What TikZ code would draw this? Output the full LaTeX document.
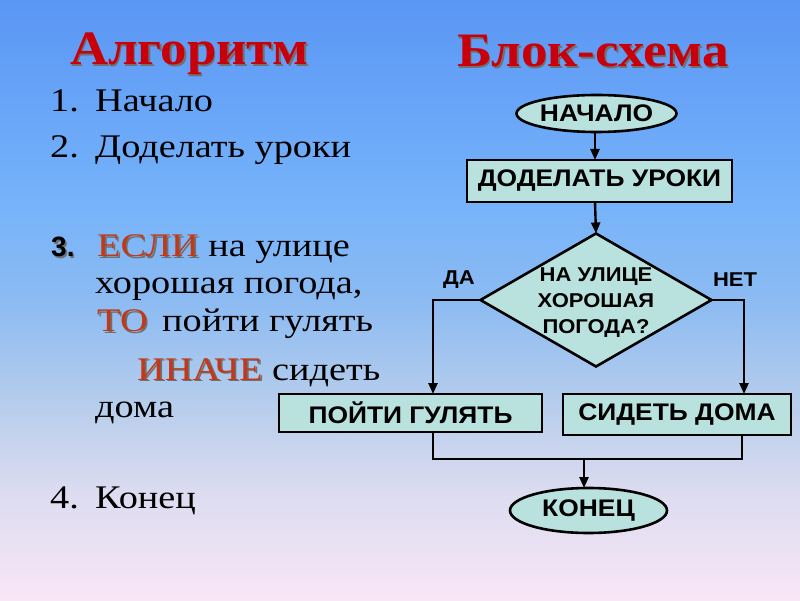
\documentclass[tikz,border=0pt]{standalone}
\usepackage{fontspec}
\setmainfont{Liberation Serif}[FakeStretch=1.16]
\setsansfont{Liberation Sans}[FakeStretch=1.1]
\newfontfamily\titlefont{Liberation Serif}[FakeStretch=1.1]
\newfontfamily\numfont{Liberation Sans}
\usetikzlibrary{shapes.geometric,arrows.meta}
\definecolor{bgA}{HTML}{5A96F4}
\definecolor{bgB}{HTML}{76B3FA}
\definecolor{bgC}{HTML}{8CBBF2}
\definecolor{bgD}{HTML}{B6CDEC}
\definecolor{bgE}{HTML}{DCDCF0}
\definecolor{bgF}{HTML}{F9E6F7}
\definecolor{boxfill}{HTML}{B9E2DF}
\definecolor{titlered}{HTML}{C8000C}
\definecolor{keyred}{HTML}{C03A1A}
\definecolor{shadowgray}{HTML}{404040}
\pgfdeclareverticalshading{slidebg}{100bp}{color(0bp)=(bgF); color(25bp)=(bgF); color(34bp)=(bgE); color(41.5bp)=(bgD); color(50bp)=(bgC); color(58bp)=(bgB); color(75bp)=(bgA); color(100bp)=(bgA)}
\newcommand\shtxt[2]{\rlap{\hspace{1.6pt}\raisebox{-1.6pt}{\textcolor{shadowgray!75}{#2}}}\textcolor{#1}{#2}}
\tikzset{
  flow/.style={draw=black, line width=2.6pt, fill=boxfill, inner sep=0pt, outer sep=0pt,
    font=\sffamily\bfseries\fontsize{24}{26}\selectfont},
  term/.style={flow, ellipse},
  proc/.style={flow, rectangle},
  dec/.style={flow, diamond},
  conn/.style={line width=2.4pt, draw=black},
  arr/.style={conn, -{Triangle[length=11pt,width=9pt]}},
  body/.style={inner sep=0pt, anchor=base west, font=\fontsize{33}{37}\selectfont},
  ttl/.style={inner sep=0pt, anchor=base west, font=\titlefont\bfseries\fontsize{48}{52}\selectfont},
  lbl/.style={inner sep=0pt, font=\sffamily\bfseries\fontsize{20}{22}\selectfont}
}
\begin{document}
\begin{tikzpicture}[x=1pt,y=-1pt]
\useasboundingbox (0,0) rectangle (800,601);
\shade[shading=slidebg] (0,0) rectangle (800,601);

% titles
\node[ttl] (t1) at (70,65) {\shtxt{titlered}{Алгоритм}};
\node[ttl] (t2) at (457,67) {\shtxt{titlered}{Блок-схема}};

% algorithm text
\node[body] (n1) at (50,112) {1.};
\node[body] (s1) at (95,112) {Начало};
\node[body] (n2) at (50,158) {2.};
\node[body] (s2) at (95,158) {Доделать уроки};
\node[body, font=\numfont\bfseries\fontsize{28}{32}\selectfont] (n3) at (51,257) {\shtxt{black}{3.}};
\node[body] (s3a) at (97,257) {\shtxt{keyred}{ЕСЛИ} на улице};
\node[body] (s3b) at (95,294) {хорошая погода,};
\node[body] (s3c) at (97,332) {\shtxt{keyred}{ТО}};
\node[body] (s3d) at (162,332) {пойти гулять};
\node[body] (s3e) at (137,380) {\shtxt{keyred}{ИНАЧЕ} сидеть};
\node[body] (s3f) at (95,417) {дома};
\node[body] (n4) at (50,508) {4.};
\node[body] (s4) at (95,508) {Конец};

% flowchart
\node[term, minimum width=153, minimum height=37] (start) at (596.5,113.5) {НАЧАЛО};
\node[proc, minimum width=265, minimum height=42] (do) at (599.5,181) {ДОДЕЛАТЬ УРОКИ};
\node[dec, minimum width=231, minimum height=133] (cond) at (596,300)
  {\smash{\makebox[0pt]{\raisebox{-7pt}{\fontsize{20}{26}\selectfont\begin{tabular}{@{}c@{}}НА УЛИЦЕ\\ХОРОШАЯ\\ПОГОДА?\end{tabular}}}}};
\node[proc, minimum width=263, minimum height=38] (walk) at (410.5,413) {ПОЙТИ ГУЛЯТЬ};
\node[proc, minimum width=228, minimum height=41] (home) at (677,414.5) {СИДЕТЬ ДОМА};
\node[term, minimum width=157, minimum height=45] (end) at (588.5,510.5) {КОНЕЦ};

\node[lbl] (yes) at (459,280) {ДА};
\node[lbl] (no) at (735,280) {НЕТ};

\coordinate (yesTurn) at (433,300);
\coordinate (noTurn) at (744,300);
\coordinate (mergeL) at (433,459);
\coordinate (mergeR) at (742,459);
\coordinate (mergeM) at (584,459);

\draw[arr] (start.south -| 595,0) -- (do.north -| 595,0);
\draw[arr] (do.south -| 595,0) -- (cond.north);
\draw[arr] (cond.west) -- (yesTurn) -- (yesTurn |- walk.north);
\draw[arr] (cond.east) -- (noTurn) -- (noTurn |- home.north);
\draw[conn] (walk.south -| mergeL) -- (mergeL) -- (mergeR) -- (home.south -| mergeR);
\draw[arr] (mergeM) -- (mergeM |- end.north);
\end{tikzpicture}
\end{document}
